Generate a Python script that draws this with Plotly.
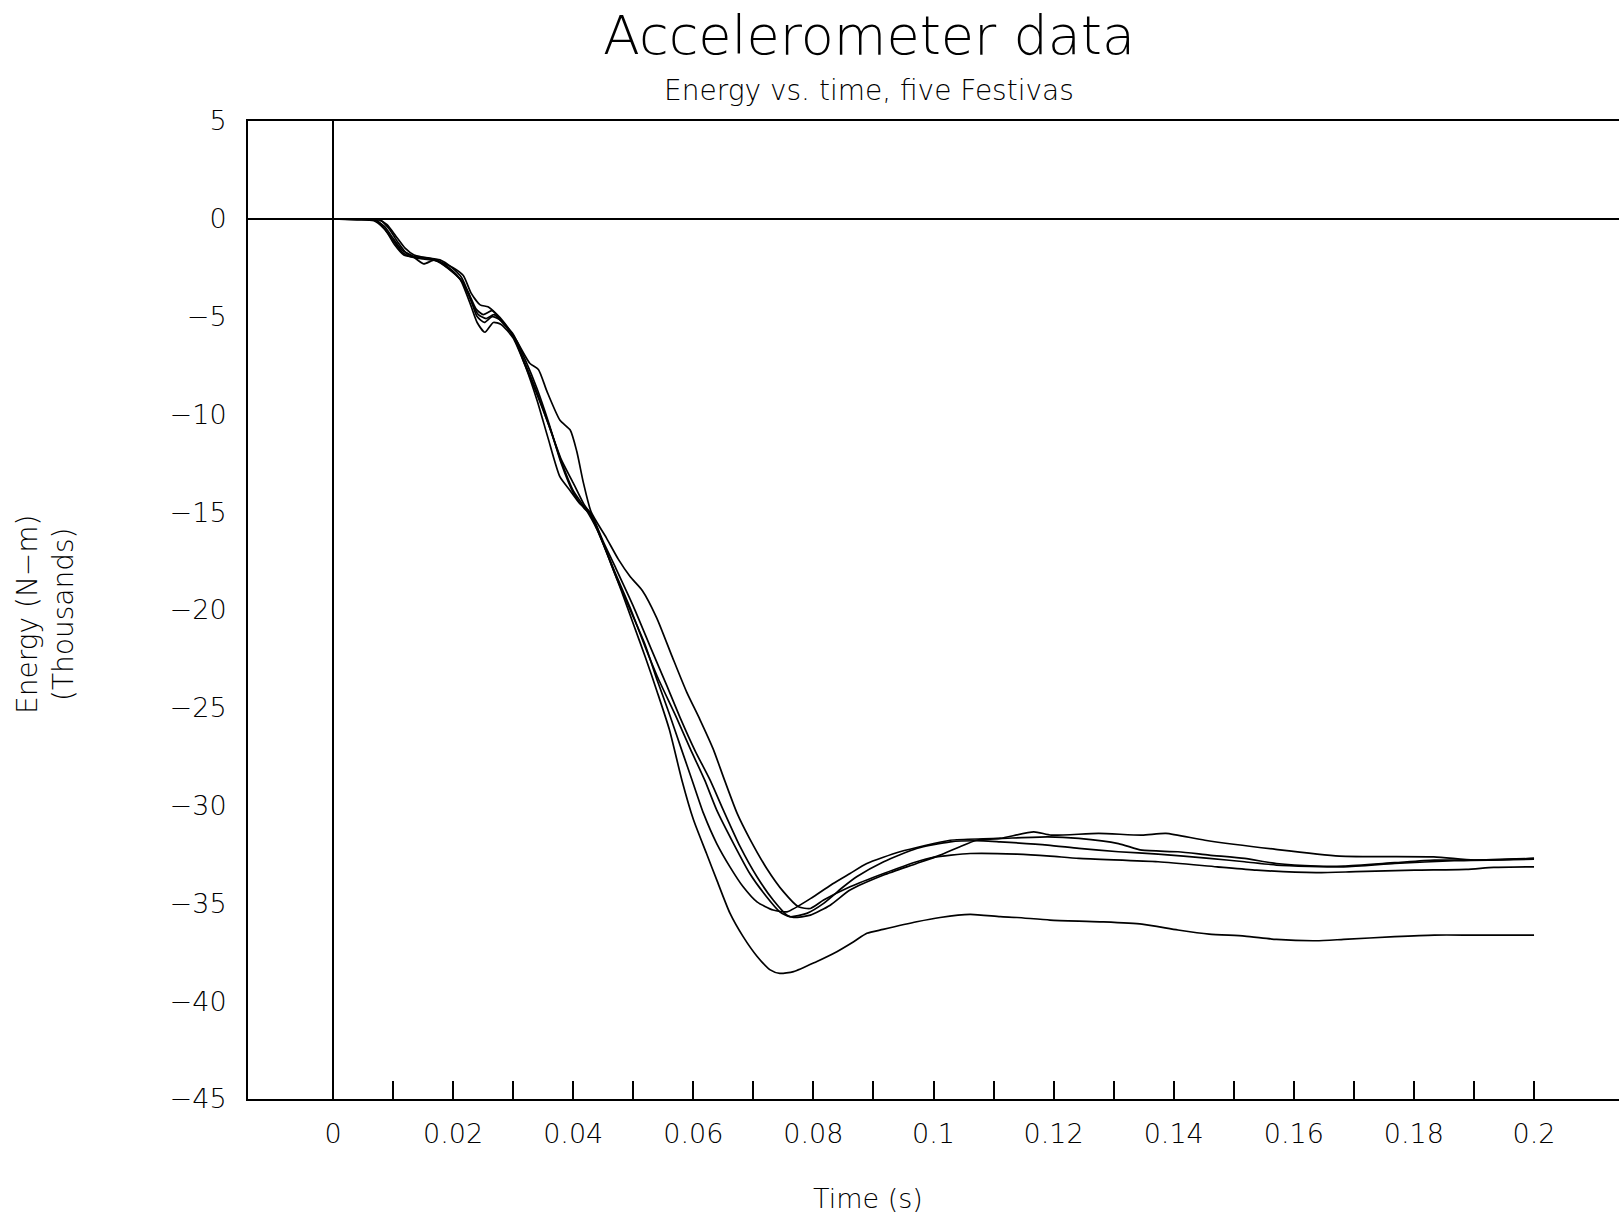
import plotly.graph_objects as go

# ---------------- data (Energy in thousands of N-m vs time in s) ----------------
t_car1 = [0, 0.004, 0.0068, 0.0085, 0.010, 0.0115, 0.013, 0.015, 0.0175, 0.0195, 0.0212, 0.0228, 0.0240,
          0.0253, 0.0267, 0.028, 0.030, 0.032, 0.034, 0.036, 0.038, 0.040, 0.042, 0.044, 0.046, 0.048,
          0.050, 0.052, 0.054, 0.056, 0.0581, 0.060, 0.0622, 0.0639, 0.0661, 0.0683, 0.0706, 0.0728,
          0.0744, 0.0767, 0.0805, 0.0839, 0.0867, 0.0889, 0.0916, 0.0972, 0.1011, 0.1061, 0.1111,
          0.1139, 0.1194, 0.1277, 0.1347, 0.1407, 0.1459, 0.1518, 0.1571, 0.1637, 0.1683, 0.1768,
          0.1834, 0.1900, 0.2]
e_car1 = [0, -0.05, -0.1, -0.5, -1.1, -1.7, -1.95, -2.05, -2.15, -2.55, -3.1, -4.3, -5.3,
          -5.8, -5.3, -5.4, -6.1, -7.5, -9.0, -10.6, -12.4, -13.9, -14.8, -15.9, -17.4, -19.0,
          -20.7, -22.4, -24.2, -26.1, -28.7, -30.7, -32.45, -33.8, -35.5, -36.7, -37.7, -38.4,
          -38.58, -38.49, -37.98, -37.47, -36.96, -36.53, -36.33, -35.94, -35.72, -35.56, -35.68,
          -35.72, -35.85, -35.94, -36.06, -36.36, -36.57, -36.67, -36.84, -36.91, -36.84, -36.70,
          -36.62, -36.62, -36.62]

t_car2 = [0, 0.005, 0.0072, 0.0088, 0.0102, 0.0118, 0.0135, 0.0155, 0.0178, 0.0198, 0.0214, 0.0228,
          0.0240, 0.0252, 0.0265, 0.028, 0.030, 0.032, 0.034, 0.0358, 0.0378, 0.0395, 0.0411, 0.0428,
          0.045, 0.047, 0.0495, 0.052, 0.054, 0.056, 0.058, 0.0598, 0.0617, 0.0639, 0.0661, 0.0683,
          0.0706, 0.0733, 0.0756, 0.0800, 0.0833, 0.0861, 0.0889, 0.0944, 0.1028, 0.1083, 0.1111,
          0.1190, 0.1242, 0.1308, 0.1347, 0.1407, 0.1459, 0.1518, 0.1571, 0.1637, 0.1683, 0.1768,
          0.1834, 0.1900, 0.2]
e_car2 = [0, -0.03, -0.08, -0.6, -1.3, -1.85, -1.95, -2.0, -2.1, -2.5, -3.0, -4.0,
          -5.0, -5.3, -5.0, -5.2, -6.0, -7.5, -9.3, -11.2, -13.2, -13.9, -14.56, -15.0,
          -16.6, -18.2, -20.0, -21.8, -23.6, -25.3, -27.1, -28.7, -30.4, -31.94, -33.13, -34.15,
          -34.92, -35.34, -35.43, -34.66, -33.98, -33.47, -32.96, -32.36, -31.77, -31.7, -31.68,
          -31.60, -31.68, -31.94, -32.28, -32.36, -32.53, -32.70, -32.96, -33.09, -33.09, -32.92,
          -32.79, -32.79, -32.70]

t_car3 = [0, 0.005, 0.0070, 0.0086, 0.0100, 0.0115, 0.0132, 0.0151, 0.0170, 0.0195, 0.0212, 0.0226,
          0.0238, 0.0250, 0.0265, 0.0280, 0.030, 0.032, 0.034, 0.036, 0.038, 0.040, 0.0418, 0.0428,
          0.045, 0.047, 0.0495, 0.052, 0.054, 0.0572, 0.0595, 0.0619, 0.0639, 0.0667, 0.0694, 0.0722,
          0.0744, 0.0761, 0.0789, 0.0817, 0.0850, 0.0872, 0.0917, 0.0972, 0.1028, 0.1083, 0.1111,
          0.1190, 0.1242, 0.1308, 0.1374, 0.1459, 0.1518, 0.1571, 0.1683, 0.1768, 0.1867, 0.2]
e_car3 = [0, -0.02, -0.05, -0.4, -1.0, -1.6, -1.9, -2.3, -2.1, -2.6, -3.1, -3.8,
          -4.6, -4.9, -4.7, -5.2, -5.9, -7.2, -8.7, -10.5, -12.5, -14.0, -14.8, -15.1,
          -16.6, -18.1, -19.9, -21.9, -23.4, -25.5, -27.1, -28.7, -30.23, -31.94, -33.47, -34.66,
          -35.43, -35.68, -35.51, -35.0, -34.15, -33.64, -32.87, -32.19, -31.85, -31.80, -31.85,
          -32.02, -32.19, -32.36, -32.48, -32.70, -32.87, -33.04, -33.13, -32.96, -32.82, -32.74]

t_car4 = [0, 0.0055, 0.0075, 0.009, 0.0105, 0.012, 0.0135, 0.0155, 0.0175, 0.0198, 0.0215, 0.0230,
          0.0242, 0.0255, 0.0268, 0.0282, 0.030, 0.032, 0.034, 0.036, 0.038, 0.040, 0.0418, 0.0432,
          0.045, 0.047, 0.050, 0.053, 0.0555, 0.0578, 0.0603, 0.0628, 0.0650, 0.0678, 0.0706, 0.0733,
          0.0756, 0.0767, 0.0795, 0.0828, 0.0861, 0.0917, 0.0972, 0.1011, 0.1044, 0.1072, 0.1111,
          0.1167, 0.1196, 0.1275, 0.1347, 0.1387, 0.1452, 0.157, 0.1676, 0.1833, 0.19, 0.2]
e_car4 = [0, -0.02, -0.04, -0.3, -0.9, -1.5, -1.85, -2.0, -2.2, -2.7, -3.2, -4.2,
          -4.9, -5.1, -4.9, -5.3, -6.0, -7.4, -8.9, -10.6, -12.3, -13.5, -14.6, -15.2,
          -16.5, -17.8, -19.8, -22.0, -23.8, -25.5, -27.2, -28.7, -30.23, -32.1, -33.64, -34.83,
          -35.6, -35.72, -35.6, -35.09, -34.32, -33.55, -32.96, -32.53, -32.1, -31.77, -31.68,
          -31.34, -31.51, -31.42, -31.51, -31.42, -31.77, -32.24, -32.58, -32.62, -32.79, -32.70]

t_car5 = [0, 0.006, 0.0078, 0.0093, 0.0108, 0.0122, 0.0138, 0.0158, 0.0178, 0.0200, 0.0217, 0.0230,
          0.0245, 0.0258, 0.027, 0.0285, 0.0305, 0.0328, 0.0342, 0.0356, 0.0378, 0.0395, 0.0406,
          0.0417, 0.043, 0.0455, 0.0475, 0.0495, 0.0515, 0.0539, 0.0565, 0.0589, 0.0611, 0.0633,
          0.0652, 0.0673, 0.0694, 0.0722, 0.0750, 0.0775, 0.0795, 0.0817, 0.0861, 0.0917, 0.0972,
          0.1000, 0.1061, 0.1139, 0.1194, 0.1242, 0.1374, 0.1472, 0.1538, 0.1637, 0.1703, 0.1801,
          0.1887, 0.1933, 0.2]
e_car5 = [0, -0.01, -0.05, -0.5, -1.2, -1.75, -1.95, -2.0, -2.2, -2.5, -2.9, -3.8,
          -4.4, -4.5, -4.8, -5.3, -6.2, -7.4, -7.7, -8.8, -10.3, -10.8, -11.9,
          -13.5, -15.0, -16.3, -17.4, -18.3, -19.0, -20.4, -22.4, -24.2, -25.6, -27.1,
          -28.7, -30.4, -31.7, -33.2, -34.4, -35.17, -35.26, -34.83, -34.15, -33.47, -32.87,
          -32.65, -32.45, -32.48, -32.58, -32.70, -32.87, -33.13, -33.30, -33.43, -33.38, -33.30,
          -33.26, -33.16, -33.13]

series = [(t_car1, e_car1), (t_car2, e_car2), (t_car3, e_car3), (t_car4, e_car4), (t_car5, e_car5)]

x_tick_vals = [round(i * 0.01, 2) for i in range(0, 21)]
x_tick_text = [("0" if v == 0 else ("%g" % v)) if i % 2 == 0 else "" for i, v in enumerate(x_tick_vals)]
y_tick_vals = list(range(-45, 10, 5))
y_tick_text = [("\u2212" + str(-v)) if v < 0 else str(v) for v in y_tick_vals]

FONT = "DejaVu Sans"
W = 200

fig = go.Figure()
for tt, ee in series:
    fig.add_trace(go.Scatter(x=tt, y=ee, mode="lines",
                             line=dict(color="black", width=1.7, shape="spline", smoothing=0.6),
                             showlegend=False, hoverinfo="skip"))

fig.update_layout(
    width=1619, height=1217,
    margin=dict(l=248, r=0, t=121, b=118, pad=0),
    paper_bgcolor="white", plot_bgcolor="white",
    font=dict(family=FONT, color="black", size=27, weight=W),
    xaxis=dict(range=[-0.014155, 0.21415], showgrid=False,
               showline=True, mirror=True, linecolor="black", linewidth=2,
               zeroline=True, zerolinecolor="black", zerolinewidth=1.5,
               tickmode="array", tickvals=x_tick_vals, ticktext=x_tick_text,
               ticks="inside", ticklen=18, tickwidth=1.5, tickcolor="black",
               ticklabelstandoff=10,
               tickfont=dict(family=FONT, size=27, color="black", weight=W)),
    yaxis=dict(range=[-45, 5], showgrid=False,
               showline=True, mirror=False, linecolor="black", linewidth=2,
               zeroline=True, zerolinecolor="black", zerolinewidth=2,
               tickmode="array", tickvals=y_tick_vals, ticktext=y_tick_text,
               ticks="", ticklabelstandoff=14,
               tickfont=dict(family=FONT, size=27, color="black", weight=W)),
    annotations=[
        dict(text="Accelerometer data", xref="paper", yref="paper", x=(869 - 248) / 1371, y=1,
             yshift=121 - 35, xanchor="center", yanchor="middle", showarrow=False,
             font=dict(family=FONT, size=54, color="black", weight=W)),
        dict(text="Energy vs. time, five Festivas", xref="paper", yref="paper", x=(869 - 248) / 1371, y=1,
             yshift=121 - 90, xanchor="center", yanchor="middle", showarrow=False,
             font=dict(family=FONT, size=28, color="black", weight=W)),
        dict(text="Time (s)", xref="paper", yref="paper", x=(868 - 248) / 1371, y=0,
             yshift=-(1198 - 1099), xanchor="center", yanchor="middle", showarrow=False,
             font=dict(family=FONT, size=27, color="black", weight=W)),
        dict(text="Energy (N\u2212m)<br>(Thousands)", xref="paper", yref="paper", x=0, y=(1099 - 614) / 978,
             xshift=-(248 - 45), xanchor="center", yanchor="middle", showarrow=False, textangle=-90,
             font=dict(family=FONT, size=28, color="black", weight=W)),
    ],
)

fig.write_html("out.html")
